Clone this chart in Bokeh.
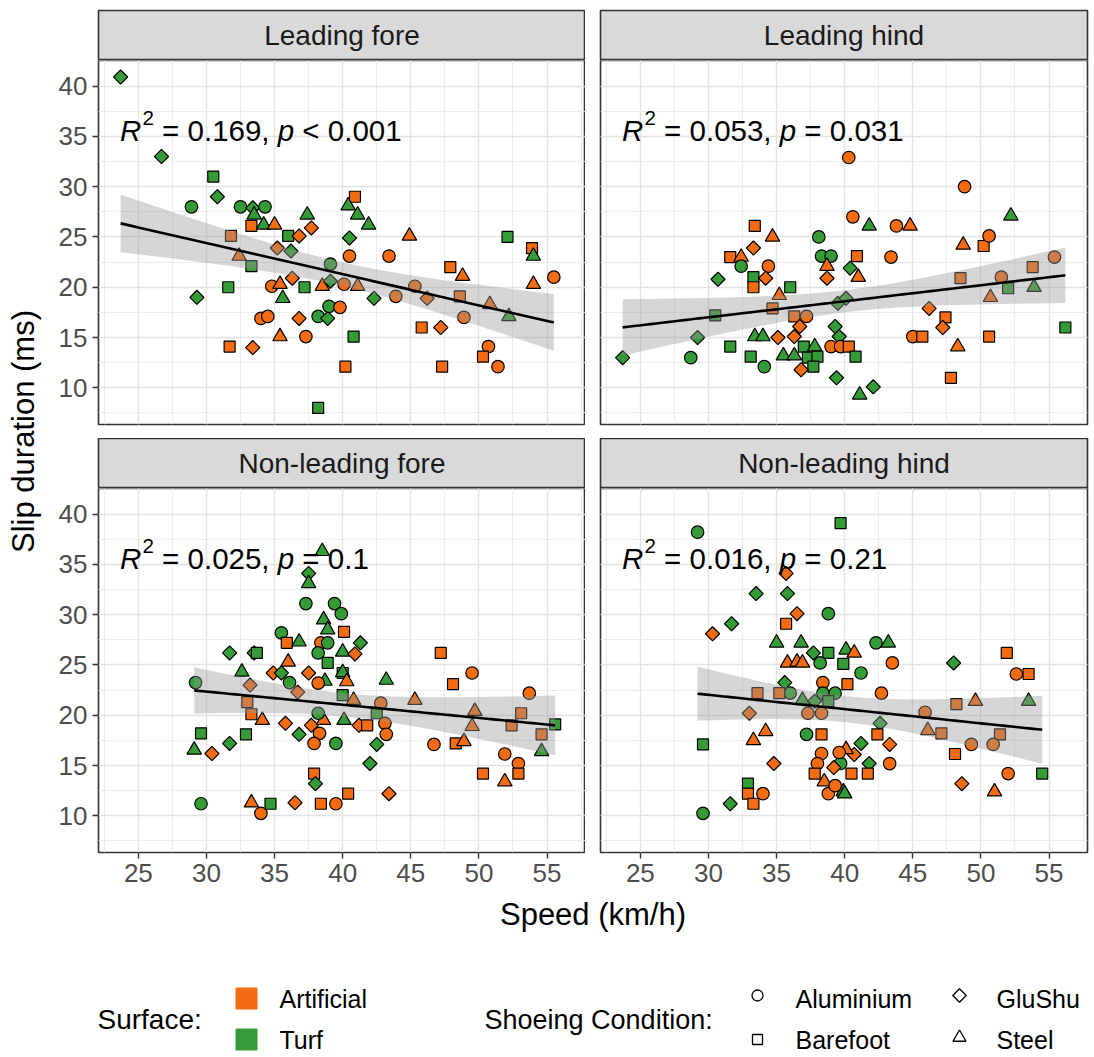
import numpy as np
from bokeh.plotting import figure
from bokeh.models import FixedTicker, Label, ColumnDataSource, Range1d
from bokeh.layouts import column, row
from bokeh.embed import file_html
from bokeh.resources import INLINE
from bokeh.core.properties import value

# ---------------- data ----------------
panel_titles = ["Leading fore", "Leading hind", "Non-leading fore", "Non-leading hind"]
r2_values = ["0.169", "0.053", "0.025", "0.016"]
p_values = ["< 0.001", "= 0.031", "= 0.1", "= 0.21"]
surface_names = {"A": "Artificial", "T": "Turf"}
shoe_names = {"C": "Aluminium", "B": "Barefoot", "G": "GluShu", "S": "Steel"}
x_ticks = [25, 30, 35, 40, 45, 50, 55]
y_ticks = [10, 15, 20, 25, 30, 35, 40]

# Leading fore
lf_speed = [23.7, 26.7, 30.5, 30.8, 28.9, 32.5, 33.4, 34.3, 33.5, 33.3,
            34.2, 35.0, 37.4, 37.7, 36.0, 36.8, 31.8, 35.2, 36.2, 32.4,
            33.3, 39.1, 31.6, 29.3, 34.8, 35.4, 36.3, 37.2, 38.5, 39.1,
            40.1, 35.6, 34.0, 34.5, 36.8, 38.2, 38.9, 39.0, 39.8, 35.4,
            37.3, 31.7, 33.4, 38.2, 40.2, 40.9, 40.4, 41.1, 41.9, 40.5,
            40.5, 43.4, 44.9, 41.1, 42.3, 43.9, 45.3, 46.2, 40.8, 47.9,
            48.8, 48.6, 48.9, 45.8, 47.2, 47.3, 50.8, 52.2, 50.7, 50.3,
            51.4, 52.1, 53.9, 54.0, 54.0, 55.5]
lf_slip = [40.9, 33, 31, 29, 28, 28, 27.9, 28, 27.2, 26.1,
           26.2, 26.2, 27.2, 25.9, 25.1, 25.1, 25.1, 23.9, 23.6, 23.1,
           22.1, 22.3, 20.0, 19.0, 20.1, 20.3, 20.9, 20.0, 20.1, 20.6,
           20.3, 18.9, 16.9, 17.1, 16.9, 17.1, 16.9, 18.1, 18.0, 15.1,
           15.1, 14.1, 14.0, 8.0, 12.1, 29.0, 28.1, 27.2, 26.2, 24.9,
           23.1, 23.1, 25.1, 20.1, 18.9, 19.1, 20.1, 18.9, 15.1, 22.0,
           21.1, 19.1, 17.0, 16.0, 16.0, 12.1, 18.3, 17.1, 14.1, 13.1,
           12.1, 25.0, 23.9, 23.1, 20.3, 21.0]
lf_surface = list("TTTTTTTTTA" "TATATAAATA" "TTTTAAATAT" "ATAAATTTAA"
                  "AAATAATTTT" "AAAATAAATA" "AAAAAAATAA" "ATATAA")
lf_shoe = list("GGBGCCGCSB" "SSSGBGBGGS" "BCBGCSGBSG" "CSCCGCGCCS"
               "CBGBBBSSSG" "CCSSGCCGBB" "SBCBGBSSCB" "CBBSSC")

# Leading hind
lh_speed = [23.7, 28.7, 29.2, 30.5, 30.7, 31.6, 32.4, 32.4, 33.3, 33.4,
            34.7, 33.3, 33.3, 34.4, 34.2, 36.0, 35.2, 34.7, 38.1, 38.3,
            39.0, 38.7, 38.7, 39.5, 36.3, 37.2, 36.7, 35.1, 36.3, 33.4,
            34.0, 39.6, 39.3, 31.6, 33.1, 34.1, 35.5, 36.3, 37.0, 37.8,
            37.3, 38.0, 37.7, 36.8, 39.0, 39.7, 39.4, 40.3, 40.6, 41.8,
            43.8, 44.8, 48.8, 52.2, 48.7, 50.2, 50.6, 40.9, 43.4, 40.4,
            41.0, 40.1, 48.5, 51.5, 53.8, 55.4, 52.0, 53.9, 50.7, 46.2,
            47.4, 47.2, 45.0, 45.7, 48.3, 50.6, 47.8, 56.2, 41.1, 42.1,
            40.3, 40.8]
lh_slip = [13.0, 13.0, 15.0, 17.2, 20.8, 23.0, 23.0, 22.1, 23.9, 26.1,
           25.0, 21.0, 20.0, 22.1, 20.9, 20.0, 19.2, 17.9, 25.0, 23.1,
           23.1, 22.1, 20.9, 18.4, 17.1, 17.1, 16.1, 15.0, 15.1, 15.1,
           15.1, 15.1, 16.1, 14.1, 13.1, 12.1, 13.2, 13.2, 14.1, 14.1,
           13.0, 13.1, 12.1, 11.8, 14.1, 14.1, 11.0, 32.9, 27.0, 26.1,
           26.1, 26.1, 30.0, 27.1, 24.2, 24.1, 25.1, 23.1, 23.0, 21.9,
           21.0, 18.9, 20.9, 21.0, 22.0, 23.0, 19.9, 20.0, 19.0, 17.9,
           17.0, 16.0, 15.1, 15.1, 14.1, 15.1, 11.0, 16.0, 9.3, 10.1,
           14.1, 13.1]
lh_surface = list("TTTTTAATAA" "ATAAATAATT" "TAATAAAAAT" "TTTTTTTTTT"
                  "TTTAAATAAT" "AAATAAAAAT" "ATAAAATTAA" "AAAAAAATTT" "AT")
lh_shoe = list("GCGBGBSCGB" "SBBCGBSBCC" "CSGGBCGGGS" "SGGBBCSSBS"
               "BBBGCCGCCS" "CSCSSBCBCG" "SGBCBCBSSG" "BGCBSBBBSG" "BB")

# Non-leading fore
nf_speed = [29.2, 33.2, 32.6, 31.7, 33.5, 33.7, 35.5, 35.9, 36.8, 36.0,
            34.9, 35.5, 36.1, 37.5, 36.7, 37.3, 37.5, 37.5, 38.5, 39.4,
            39.9, 38.6, 38.9, 38.4, 38.9, 38.2, 38.9, 40.0, 40.1, 38.7,
            40.0, 38.2, 33.0, 33.3, 34.1, 35.8, 36.8, 37.7, 38.6, 38.3,
            37.9, 38.2, 39.5, 40.1, 29.6, 29.1, 30.4, 31.7, 32.9, 37.9,
            38.0, 29.6, 33.3, 34.0, 34.7, 36.5, 38.4, 39.5, 40.4, 41.3,
            40.9, 40.0, 40.3, 40.0, 40.8, 42.8, 43.2, 45.3, 42.5, 41.2,
            41.8, 43.1, 43.2, 42.5, 42.0, 43.4, 47.2, 49.5, 48.1, 53.7,
            49.7, 53.1, 52.4, 55.6, 54.6, 54.6, 49.5, 48.3, 48.9, 46.7,
            51.9, 52.9, 52.9, 50.3, 51.9]
nf_slip = [23.25, 23.0, 24.3, 26.2, 26.2, 26.2, 28.2, 27.2, 27.3, 25.3,
           24.2, 24.2, 23.25, 24.2, 22.3, 31.1, 34.1, 33.1, 36.3, 31.1,
           30.1, 29.5, 28.5, 27.2, 27.2, 26.2, 25.2, 26.3, 28.3, 23.4,
           24.2, 23.2, 21.3, 20.1, 19.5, 19.2, 18.1, 19.0, 19.5, 18.2,
           17.2, 20.2, 17.2, 19.5, 18.2, 16.55, 16.2, 17.2, 18.1, 14.2,
           13.2, 11.2, 11.3, 10.25, 11.2, 11.3, 11.2, 11.2, 12.2, 27.2,
           26.1, 24.25, 23.35, 22.0, 21.5, 21.2, 23.5, 21.5, 20.2, 19.0,
           19.0, 19.2, 18.1, 17.1, 15.2, 12.2, 26.2, 24.2, 23.1, 22.2,
           20.4, 20.2, 19.0, 19.1, 18.1, 16.4, 18.9, 17.2, 17.4, 17.1,
           16.15, 15.2, 14.2, 14.2, 13.4]
nf_surface = list("TATTTTTATA" "ATTAATTTTT" "TTTATTTTAT" "TAAAAATAAA"
                  "ATTTTTATTA" "TTAATAAAAT" "ATATAATATA" "AAATTAAAAA"
                  "AAATATAAAA" "AAAAA")
nf_shoe = list("CGSGGBCBSS" "GGCGGCGSSC" "CSSCCCBSBS" "BCBBSGGGSC"
               "CCCSBSGGBB" "GCSCBGBCBG" "GSSBSCSSBG" "BCCGGGBCBC"
               "SBBBBSSBSC" "CCBBS")

# Non-leading hind
nh_speed = [29.2, 39.7, 35.7, 33.5, 35.8, 36.5, 35.7, 38.8, 31.7, 30.3,
            35.0, 36.8, 35.8, 36.5, 36.9, 37.7, 38.8, 38.2, 40.1, 39.9,
            35.6, 36.0, 38.4, 38.4, 39.3, 33.6, 35.2, 36.9, 37.8, 38.8,
            33.0, 37.3, 38.3, 37.2, 38.3, 33.3, 34.2, 29.6, 34.8, 38.3,
            38.0, 37.8, 38.5, 38.8, 39.7, 39.9, 32.9, 32.9, 34.0, 33.3,
            31.6, 29.6, 40.7, 42.3, 43.2, 43.5, 41.2, 40.2, 42.7, 42.6,
            42.4, 43.3, 41.2, 40.7, 43.3, 41.8, 40.5, 41.7, 40.0, 40.1,
            45.9, 46.1, 47.1, 48.0, 48.2, 49.6, 51.9, 52.6, 53.5, 53.5,
            51.4, 49.3, 50.9, 48.1, 48.6, 51.0, 52.0, 54.5, 39.2, 39.6,
            39.3]
nh_slip = [38.2, 39.1, 34.1, 32.1, 32.1, 30.1, 29.1, 30.1, 29.1, 28.1,
           27.2, 27.2, 25.2, 25.3, 25.2, 26.2, 26.2, 25.2, 26.5, 25.1,
           23.25, 22.2, 23.25, 22.2, 22.2, 22.2, 22.2, 21.5, 21.4, 21.4,
           20.2, 20.2, 20.2, 18.1, 18.1, 17.5, 18.4, 17.1, 15.2, 16.2,
           15.2, 14.2, 13.4, 12.2, 15.2, 12.4, 13.2, 12.2, 12.2, 11.2,
           11.2, 10.25, 26.2, 27.2, 27.2, 25.2, 24.2, 23.1, 22.2, 19.2,
           18.1, 17.1, 17.2, 16.1, 15.2, 15.2, 14.2, 14.2, 12.2, 16.6,
           20.3, 18.5, 18.2, 25.2, 21.1, 21.4, 26.2, 24.1, 24.1, 21.4,
           18.1, 17.1, 17.1, 16.15, 13.2, 12.4, 14.2, 14.2, 14.8, 16.3,
           13.0]
nh_surface = list("TTATTAATTA" "TTAAATTTTT" "TTATTAATTT" "AAATAAATAA"
                  "AAAATTTAAA" "TTATTATAAT" "AATAATAATA" "AAATAAAAAT"
                  "AAAAAAATAA" "A")
nh_shoe = list("CBGGGGBCGG" "SSSSSGBCSB" "GCCCCBBSGB" "GCCCBSSBGC"
               "CBSCCSBBCB" "GCSCSCCBCG" "BGGGCGBBSS" "CSBGBSBCBS"
               "BCCBGSCBGC" "C")

# ---------------- styling ----------------
FONT = "Liberation Sans"
SURF_COLOR = {"A": "#F36C12", "T": "#359B36"}
SHOE_MARKER = {"C": "circle", "B": "square", "G": "square", "S": "triangle"}
SHOE_SIZE = {"C": 12.5, "B": 11, "G": 10, "S": 14.5}
SHOE_ANGLE = {"C": 0.0, "B": 0.0, "G": np.pi / 4, "S": 0.0}

all_x = lf_speed + lh_speed + nf_speed + nh_speed
all_y = lf_slip + lh_slip + nf_slip + nh_slip
xr = max(all_x) - min(all_x)
yr = max(all_y) - min(all_y)
XMIN, XMAX = min(all_x) - 0.05 * xr, max(all_x) + 0.05 * xr
YMIN, YMAX = min(all_y) - 0.05 * yr, max(all_y) + 0.05 * yr

x_minor = [22.5 + 2.5 * i for i in range(15)]
y_minor = [7.5 + 2.5 * i for i in range(15)]

FRAME_W, FRAME_H = 487, 364
LEFT_LAB_W = 46
LEFT_MB = 52       # left panel border (space for y axis)
GAP_X = 15
RIGHT_MB = 7
STRIP_H = 50
TOP_PAD = 10
GAP_Y = 14
X_AXIS_H = 40
TICK_FS = "26px"

AR_W = {" ": 0.278, "=": 0.584, "<": 0.584, ".": 0.278, ",": 0.278,
        "R": 0.722, "p": 0.556}
def text_w(s, fs):
    return sum(AR_W.get(c, 0.556) for c in s) * fs


def add_stat_label(p, r2, pv):
    fs = 29.5
    x0, y0 = 23.65, 35.6
    parts = []
    cur = 0.0
    parts.append(("R", cur, fs, "italic", 0))
    cur += text_w("R", fs) + 0.04 * fs
    parts.append(("2", cur, fs * 0.7, "normal", 0.42 * fs))
    cur += text_w("2", fs * 0.7) + text_w(" ", fs)
    s1 = "= " + r2 + ","
    parts.append((s1, cur, fs, "normal", 0))
    cur += text_w(s1, fs) + text_w(" ", fs)
    parts.append(("p", cur, fs, "italic", 0))
    cur += text_w("p", fs) + text_w(" ", fs)
    parts.append((pv, cur, fs, "normal", 0))
    for txt, off, size, style, yoff in parts:
        p.add_layout(Label(x=x0, y=y0, x_offset=off, y_offset=yoff, text=txt,
                           text_font=FONT, text_font_size=f"{size:.1f}px",
                           text_font_style=style, text_color="black",
                           text_baseline="alphabetic", text_align="left"))


def make_panel(idx, speed, slip, surf, shoe, left, bottom):
    mbl = LEFT_MB if left else GAP_X
    mbr = 0 if left else RIGHT_MB
    mbb = X_AXIS_H if bottom else GAP_Y
    p = figure(width=mbl + FRAME_W + mbr, height=FRAME_H + mbb,
               x_range=Range1d(XMIN, XMAX), y_range=Range1d(YMIN, YMAX),
               x_axis_location="below" if bottom else None,
               y_axis_location="left" if left else None,
               min_border_left=mbl, min_border_right=mbr,
               min_border_top=0, min_border_bottom=mbb,
               output_backend="svg", toolbar_location=None)
    p.background_fill_color = "white"
    p.border_fill_color = "white"
    p.outline_line_color = "#333333"
    p.outline_line_width = 1.6
    p.xgrid.ticker = FixedTicker(ticks=x_ticks, minor_ticks=x_minor)
    p.ygrid.ticker = FixedTicker(ticks=y_ticks, minor_ticks=y_minor)
    for g in (p.xgrid, p.ygrid):
        g.grid_line_color = "#e3e3e3"
        g.grid_line_width = 1.4
        g.minor_grid_line_color = "#ececec"
        g.minor_grid_line_width = 1.0
    for ax in p.axis:
        ax.axis_line_color = None
        ax.major_tick_line_color = "#333333"
        ax.major_tick_line_width = 1.4
        ax.major_tick_out = 6
        ax.major_tick_in = 0
        ax.minor_tick_line_color = None
        ax.major_label_text_font = FONT
        ax.major_label_text_font_size = TICK_FS
        ax.major_label_text_color = "#4d4d4d"
        ax.major_label_standoff = 5
    if bottom:
        p.xaxis.ticker = FixedTicker(ticks=x_ticks)
    if left:
        p.yaxis.ticker = FixedTicker(ticks=y_ticks)

    src = ColumnDataSource(dict(
        x=speed, y=slip,
        surface=[surface_names[s] for s in surf],
        shoe=[shoe_names[s] for s in shoe],
        fill=[SURF_COLOR[s] for s in surf],
        marker=[SHOE_MARKER[s] for s in shoe],
        size=[SHOE_SIZE[s] for s in shoe],
        angle=[SHOE_ANGLE[s] for s in shoe],
    ))
    p.scatter("x", "y", source=src, marker="marker", size="size", angle="angle",
              fill_color="fill", line_color="black", line_width=1.2)

    # linear fit with 95% confidence band, computed from the points
    xa = np.array(speed, float)
    ya = np.array(slip, float)
    n = len(xa)
    b, a = np.polyfit(xa, ya, 1)
    resid = ya - (a + b * xa)
    s = np.sqrt(np.sum(resid ** 2) / (n - 2))
    sxx = np.sum((xa - xa.mean()) ** 2)
    xs = np.linspace(xa.min(), xa.max(), 80)
    fit = a + b * xs
    se = s * np.sqrt(1.0 / n + (xs - xa.mean()) ** 2 / sxx)
    t = 1.985
    p.varea(x=xs, y1=fit - t * se, y2=fit + t * se, fill_color="#999999", fill_alpha=0.4)
    p.line(xs, fit, line_color="black", line_width=2.6)

    add_stat_label(p, r2_values[idx], p_values[idx])
    return p


def make_strip(title, left, top):
    mbl = LEFT_MB if left else GAP_X
    mbr = 0 if left else RIGHT_MB
    mbt = TOP_PAD if top else 0
    s = figure(width=mbl + FRAME_W + mbr, height=STRIP_H + mbt,
               x_range=Range1d(0, 1), y_range=Range1d(0, 1),
               x_axis_location=None, y_axis_location=None,
               min_border_left=mbl, min_border_right=mbr,
               min_border_top=mbt, min_border_bottom=0,
               output_backend="svg", toolbar_location=None)
    s.grid.visible = False
    s.background_fill_color = "#d9d9d9"
    s.border_fill_color = "white"
    s.outline_line_color = "#333333"
    s.outline_line_width = 1.6
    s.text(x=[0.5], y=[0.5], text=[title], text_align="center", text_baseline="middle",
           text_font=value(FONT), text_font_size="28px", text_color="#1a1a1a")
    return s


data = [
    (lf_speed, lf_slip, lf_surface, lf_shoe),
    (lh_speed, lh_slip, lh_surface, lh_shoe),
    (nf_speed, nf_slip, nf_surface, nf_shoe),
    (nh_speed, nh_slip, nh_surface, nh_shoe),
]

cols = []
for c in range(2):
    left = (c == 0)
    items = []
    for r in range(2):
        idx = r * 2 + c
        items.append(make_strip(panel_titles[idx], left, r == 0))
        items.append(make_panel(idx, *data[idx], left, r == 1))
    cols.append(column(*items, spacing=0))

total_h = TOP_PAD + 2 * STRIP_H + 2 * FRAME_H + GAP_Y + X_AXIS_H

ylab = figure(width=LEFT_LAB_W, height=total_h, x_range=Range1d(0, LEFT_LAB_W),
              y_range=Range1d(0, total_h), x_axis_location=None, y_axis_location=None,
              min_border=0, output_backend="svg", toolbar_location=None)
ylab.grid.visible = False
ylab.outline_line_color = None
ylab.text(x=[23], y=[total_h - 431], text=["Slip duration (ms)"], angle=np.pi / 2,
          text_align="center", text_baseline="middle", text_font=value(FONT),
          text_font_size="31px", text_color="black")

PAGE_W = 1094
xt_h = 44
xtit = figure(width=PAGE_W, height=xt_h, x_range=Range1d(0, PAGE_W), y_range=Range1d(0, xt_h),
              x_axis_location=None, y_axis_location=None, min_border=0,
              output_backend="svg", toolbar_location=None)
xtit.grid.visible = False
xtit.outline_line_color = None
panels_center = LEFT_LAB_W + LEFT_MB + (FRAME_W * 2 + GAP_X) / 2.0
xtit.text(x=[panels_center], y=[xt_h - 22], text=["Speed (km/h)"], text_align="center",
          text_baseline="middle", text_font=value(FONT), text_font_size="31px",
          text_color="black")

leg_h = 1057 - total_h - xt_h
leg = figure(width=PAGE_W, height=leg_h, x_range=Range1d(0, PAGE_W), y_range=Range1d(0, leg_h),
             x_axis_location=None, y_axis_location=None, min_border=0,
             output_backend="svg", toolbar_location=None)
leg.grid.visible = False
leg.outline_line_color = None
tf = value(FONT)
row1, row2, mid = 1057 - 998, 1057 - 1039, 1057 - 1019
leg.text(x=[97], y=[mid], text=["Surface:"], text_baseline="middle", text_font=tf,
         text_font_size="28px", text_color="black")
surf_keys = ["A", "T"]
leg.scatter(x=[246, 246], y=[row1, row2], marker="square", size=21,
            fill_color=[SURF_COLOR[k] for k in surf_keys],
            line_color=[SURF_COLOR[k] for k in surf_keys])
leg.text(x=[279, 279], y=[row1, row2], text=[surface_names[k] for k in surf_keys],
         text_baseline="middle", text_font=tf, text_font_size="25px", text_color="black")
leg.text(x=[484], y=[mid], text=["Shoeing Condition:"], text_baseline="middle", text_font=tf,
         text_font_size="27px", text_color="black")
shoe_keys = ["C", "B", "G", "S"]
kx = [757, 757, 959, 959]
ky = [row1 + 3, row2, row1 + 3, row2 + 2]
leg.scatter(x=kx, y=ky, marker=[SHOE_MARKER[k] for k in shoe_keys],
            size=[11, 10, 9.5, 13], angle=[SHOE_ANGLE[k] for k in shoe_keys],
            fill_color=None, line_color="black", line_width=1.3)
leg.text(x=[795, 795, 996, 996], y=[row1, row2, row1, row2],
         text=[shoe_names[k] for k in shoe_keys],
         text_baseline="middle", text_font=tf, text_font_size="25px", text_color="black")

layout = column(row(ylab, cols[0], cols[1], spacing=0), xtit, leg, spacing=0)

open("out.html", "w").write(file_html(layout, INLINE, "Slip duration vs speed"))
